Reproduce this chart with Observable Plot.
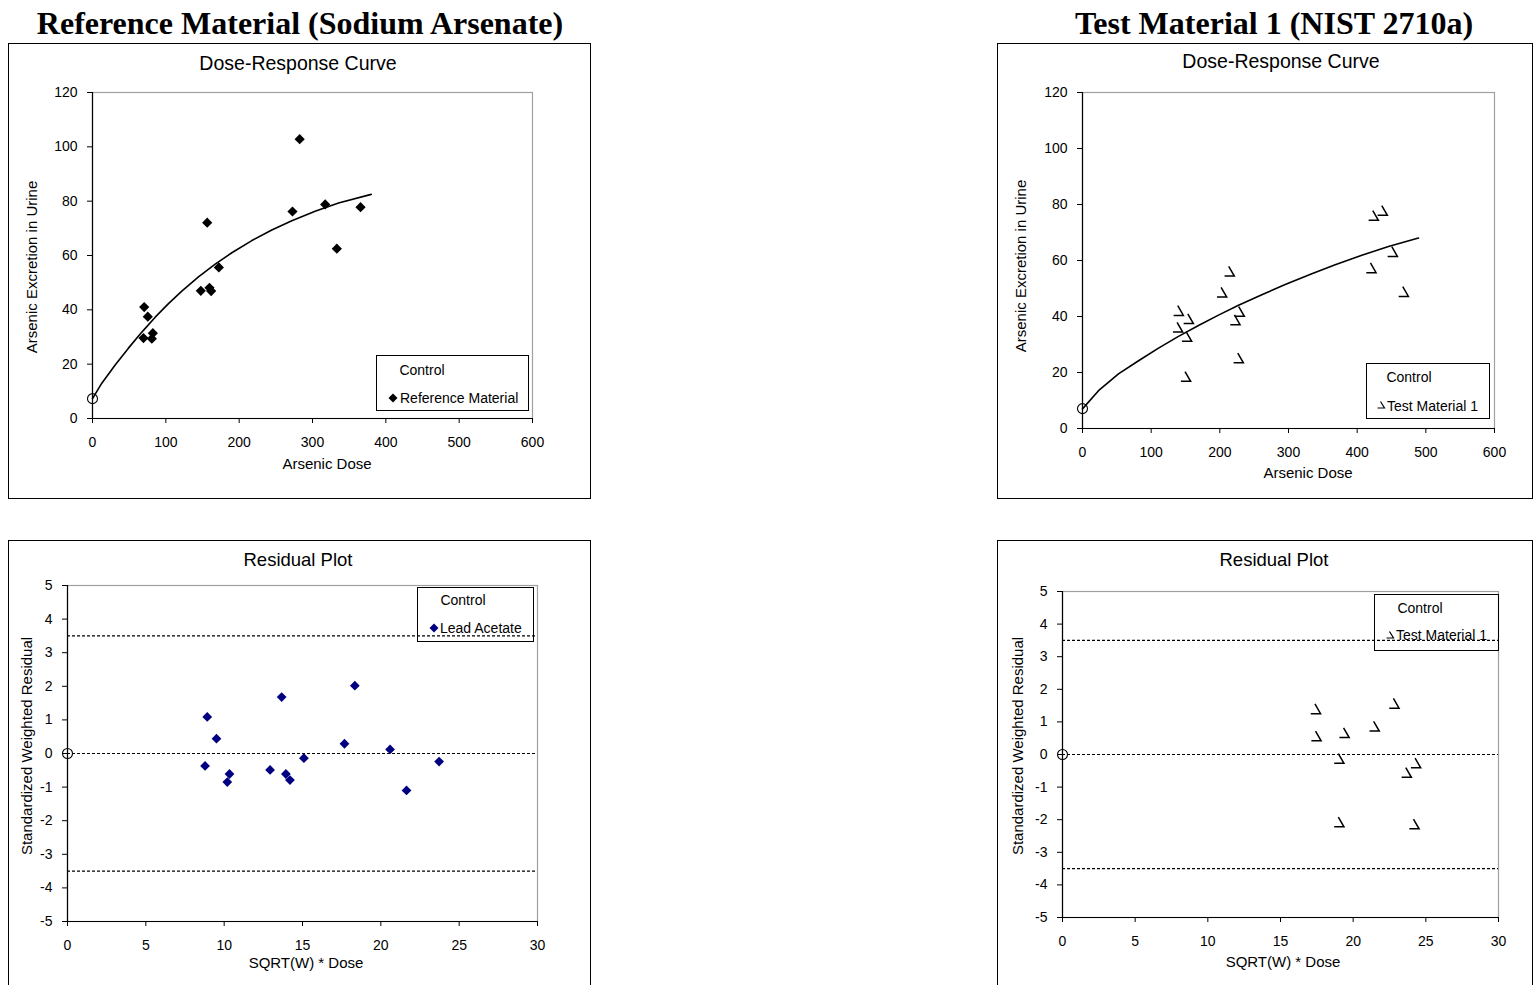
<!DOCTYPE html>
<html>
<head>
<meta charset="utf-8">
<script src="https://cdn.jsdelivr.net/npm/d3@7"></script>
<script src="https://cdn.jsdelivr.net/npm/@observablehq/plot@0.6"></script>
<style>
  html, body { margin: 0; padding: 0; background: #fff; }
  body { width: 1533px; height: 985px; overflow: hidden; position: relative;
         font-family: "Liberation Sans", Arial, sans-serif; color: #000; }
  .frame { position: absolute; border: 1px solid #000; box-sizing: border-box; }
  .frame > svg { position: absolute; left: 0; top: 0; }
  .t { position: absolute; white-space: nowrap; line-height: 1; }
  .legend { position: absolute; border: 1px solid #000; box-sizing: border-box; background: transparent; }
</style>
</head>
<body>
<script>
// ---- Reference material (sodium arsenate): arsenic dose vs. arsenic excretion in urine
const refDose      = [70.5, 75.4, 69.5, 82.3, 80.9, 147.7, 159.5, 161.8, 156.4, 172.3, 272.7, 282.5, 317.3, 333.2, 365.5];
const refExcretion = [41.0, 37.5, 29.6, 31.4, 29.4, 47.0, 48.1, 46.9, 72.1, 55.6, 76.2, 102.8, 78.8, 62.5, 77.8];
// fitted dose-response curve for the reference material
const refFitDose      = [0, 12.7, 30.9, 49, 67.3, 85.5, 103.6, 121.8, 144.5, 167.3, 190, 217.3, 244.5, 271.8, 303.6, 335.5, 380];
const refFitExcretion = [7.3, 13.0, 19.7, 25.9, 31.8, 37.3, 42.3, 46.9, 52.1, 56.8, 61.0, 65.5, 69.4, 72.8, 76.3, 79.3, 82.5];
const refControl = {dose: 0, excretion: 7.3};

// ---- Test material 1 (NIST 2710a)
const tm1Dose      = [139.8, 154.4, 138.8, 151.9, 150.4, 202.9, 214.0, 228.6, 222.3, 227.2, 423.8, 436.9, 420.4, 451.5, 467.5];
const tm1Excretion = [42.1, 39.2, 36.2, 32.9, 18.6, 48.7, 56.2, 41.8, 38.8, 25.2, 76.1, 77.9, 57.4, 63.2, 48.9];
const tm1FitDose      = [0, 23.3, 52.4, 81.6, 110.7, 139.8, 168.9, 198, 227.2, 261.2, 295.2, 334, 368, 406.8, 445.6, 489.3];
const tm1FitExcretion = [7.0, 13.5, 19.5, 24.2, 28.7, 32.9, 36.8, 40.5, 44.0, 47.8, 51.4, 55.3, 58.5, 61.9, 65.0, 68.0];
const tm1Control = {dose: 0, excretion: 7.1};

// ---- Standardized weighted residuals vs. SQRT(W) * Dose
const refResidX = [8.78, 8.92, 9.51, 10.2, 10.34, 12.93, 13.67, 13.94, 14.2, 15.09, 17.68, 18.34, 20.59, 21.64, 23.72];
const refResidY = [-0.37, 1.09, 0.44, -0.85, -0.61, -0.49, 1.68, -0.61, -0.79, -0.14, 0.29, 2.02, 0.12, -1.10, -0.24];
const tm1ResidX = [17.42, 17.46, 19.39, 19.03, 21.46, 22.82, 23.67, 24.31, 19.03, 24.2];
const tm1ResidY = [1.40, 0.57, 0.67, -0.12, 0.87, 1.57, -0.55, -0.26, -2.07, -2.13];
const residControl = {x: 0, y: 0};
const residLimits = [3.5, 0, -3.5];

// ---- tick values
const doseTicks = [0, 100, 200, 300, 400, 500, 600];
const excretionTicks = [0, 20, 40, 60, 80, 100, 120];
const residXTicks = [0, 5, 10, 15, 20, 25, 30];
const residYTicks = [-5, -4, -3, -2, -1, 0, 1, 2, 3, 4, 5];

// ---- build row tables for the marks
const zip = (xs, ys, kx, ky) => xs.map((v, i) => ({[kx]: v, [ky]: ys[i]}));
const refPoints = zip(refDose, refExcretion, "dose", "excretion");
const refFit = zip(refFitDose, refFitExcretion, "dose", "excretion");
const tm1Points = zip(tm1Dose, tm1Excretion, "dose", "excretion");
const tm1Fit = zip(tm1FitDose, tm1FitExcretion, "dose", "excretion");
const refResid = zip(refResidX, refResidY, "x", "y");
const tm1Resid = zip(tm1ResidX, tm1ResidY, "x", "y");

// open triangle marker (two strokes, left side left open)
const openTriangle = {
  draw(context, size) {
    const h = Math.sqrt(size) * 0.55;
    context.moveTo(-0.15 * h, -h);
    context.lineTo(h, h);
    context.lineTo(-h, h);
  }
};

const FONT = '"Liberation Sans", Arial, sans-serif';
const SERIF = '"Liberation Serif", "Times New Roman", serif';
const NAVY = "#000080";

function text(str, x, y, {size = 14, rotate = 0, anchor = "middle", weight = "normal", family = FONT} = {}) {
  const d = document.createElement("div");
  d.className = "t";
  d.textContent = str;
  d.style.left = x + "px";
  d.style.top = y + "px";
  d.style.fontSize = size + "px";
  d.style.fontWeight = weight;
  d.style.fontFamily = family;
  const tx = anchor === "middle" ? "-50%" : anchor === "start" ? "0%" : "-100%";
  d.style.transform = `translate(${tx},-50%)` + (rotate ? ` rotate(${rotate}deg)` : "");
  document.body.appendChild(d);
  return d;
}

function box(cls, left, top, width, height) {
  const d = document.createElement("div");
  d.className = cls;
  Object.assign(d.style, {left: left + "px", top: top + "px", width: width + "px", height: height + "px"});
  document.body.appendChild(d);
  return d;
}

// small legend swatch
function marker(kind, x, y, color = "#000") {
  const ns = "http://www.w3.org/2000/svg";
  const s = document.createElementNS(ns, "svg");
  s.setAttribute("width", 12); s.setAttribute("height", 12);
  Object.assign(s.style, {position: "absolute", left: (x - 6) + "px", top: (y - 6) + "px", overflow: "visible"});
  const p = document.createElementNS(ns, "path");
  if (kind === "diamond") {
    p.setAttribute("d", "M6,1.5 L10.5,6 L6,10.5 L1.5,6 Z");
    p.setAttribute("fill", color);
  } else {
    p.setAttribute("d", "M5.5,2.5 L9.5,9 L2.5,9");
    p.setAttribute("fill", "none");
    p.setAttribute("stroke", color);
    p.setAttribute("stroke-width", 1.2);
  }
  s.appendChild(p);
  document.body.appendChild(s);
}

function panel({left, top, width, height, margin, x, y, marks, control}) {
  const frame = box("frame", left, top, width, height);
  const chart = Plot.plot({
    width: width - 2,
    height: height - 2,
    marginLeft: margin[0], marginRight: margin[1], marginTop: margin[2], marginBottom: margin[3],
    x: {domain: x.domain, inset: 0, nice: false},
    y: {domain: y.domain, inset: 0, nice: false},
    style: {background: "transparent", fontFamily: FONT, fontSize: "14px", color: "#000", overflow: "visible"},
    marks: [
      Plot.frame({stroke: "#a0a0a0", strokeWidth: 1.2}),
      ...marks,
      Plot.ruleX([x.domain[0]], {stroke: "#000", strokeWidth: 1.2}),
      Plot.ruleY([y.domain[0]], {stroke: "#000", strokeWidth: 1.2}),
      Plot.axisX({ticks: x.ticks, tickSize: 5, tickPadding: 14, label: null, tickFormat: d => String(d), stroke: "#000"}),
      Plot.axisY({ticks: y.ticks, tickSize: 5, tickPadding: 10, label: null, tickFormat: d => String(d), stroke: "#000"}),
      // control point: open circle drawn above the axis lines
      Plot.dot([control], {x: control.xKey, y: control.yKey, r: 5, fill: "none", stroke: "#000", strokeWidth: 1.1})
    ]
  });
  frame.appendChild(chart);
}

// ---- page titles
text("Reference Material (Sodium Arsenate)", 300, 23, {size: 32, weight: "bold", family: SERIF});
text("Test Material 1 (NIST 2710a)", 1274, 23, {size: 32, weight: "bold", family: SERIF});

// ---- top-left: dose-response, reference material
panel({
  left: 8, top: 43, width: 583, height: 456,
  margin: [83, 58, 48, 80],
  x: {domain: [0, 600], ticks: doseTicks},
  y: {domain: [0, 120], ticks: excretionTicks},
  marks: [
    Plot.line(refFit, {x: "dose", y: "excretion", stroke: "#000", strokeWidth: 1.6}),
    Plot.dot(refPoints, {x: "dose", y: "excretion", symbol: "diamond2", r: 4.6, fill: "#000", stroke: "none"}),
  ],
  control: {...refControl, xKey: "dose", yKey: "excretion"},
});

// ---- top-right: dose-response, test material 1
panel({
  left: 997, top: 43, width: 536, height: 456,
  margin: [84, 38, 48, 70],
  x: {domain: [0, 600], ticks: doseTicks},
  y: {domain: [0, 120], ticks: excretionTicks},
  marks: [
    Plot.line(tm1Fit, {x: "dose", y: "excretion", stroke: "#000", strokeWidth: 1.6}),
    Plot.dot(tm1Points, {x: "dose", y: "excretion", symbol: openTriangle, r: 5, fill: "none", stroke: "#000", strokeWidth: 1.5}),
  ],
  control: {...tm1Control, xKey: "dose", yKey: "excretion"},
});

// ---- bottom-left: residuals, reference material
panel({
  left: 8, top: 540, width: 583, height: 460,
  margin: [58, 53, 44, 78],
  x: {domain: [0, 30], ticks: residXTicks},
  y: {domain: [-5, 5], ticks: residYTicks},
  marks: [
    Plot.ruleY(residLimits, {stroke: "#000", strokeWidth: 1.1, strokeDasharray: "3,2"}),
    Plot.dot(refResid, {x: "x", y: "y", symbol: "diamond2", r: 4.4, fill: NAVY, stroke: "none"}),
  ],
  control: {...residControl, xKey: "x", yKey: "y"},
});

// ---- bottom-right: residuals, test material 1
panel({
  left: 997, top: 540, width: 536, height: 460,
  margin: [64, 34, 50, 82],
  x: {domain: [0, 30], ticks: residXTicks},
  y: {domain: [-5, 5], ticks: residYTicks},
  marks: [
    Plot.ruleY(residLimits, {stroke: "#000", strokeWidth: 1.1, strokeDasharray: "3,2"}),
    Plot.dot(tm1Resid, {x: "x", y: "y", symbol: openTriangle, r: 5, fill: "none", stroke: "#000", strokeWidth: 1.5}),
  ],
  control: {...residControl, xKey: "x", yKey: "y"},
});

// ---- chart titles and axis titles
text("Dose-Response Curve", 298, 64, {size: 19.5});
text("Dose-Response Curve", 1281, 62, {size: 19.5});
text("Residual Plot", 298, 560, {size: 18.5});
text("Residual Plot", 1274, 560, {size: 18.5});

text("Arsenic Dose", 327, 463, {size: 15});
text("Arsenic Dose", 1308, 472, {size: 15});
text("SQRT(W) * Dose", 306, 962, {size: 15});
text("SQRT(W) * Dose", 1283, 961, {size: 15});

text("Arsenic Excretion in Urine", 31, 267, {size: 15, rotate: -90});
text("Arsenic Excretion in Urine", 1020, 266, {size: 15, rotate: -90});
text("Standardized Weighted Residual", 26, 746, {size: 15, rotate: -90});
text("Standardized Weighted Residual", 1017, 746, {size: 15, rotate: -90});

// ---- legends
box("legend", 376, 355, 153, 56);
text("Control", 422, 370, {size: 14});
marker("diamond", 393, 397.5);
text("Reference Material", 400, 397.5, {size: 14, anchor: "start"});

box("legend", 1366, 363, 124, 56);
text("Control", 1409, 377, {size: 14});
marker("triangle", 1381, 405);
text("Test Material 1", 1387, 405.5, {size: 14, anchor: "start"});

box("legend", 417, 587, 117, 55);
text("Control", 463, 600, {size: 14});
marker("diamond", 434, 628, NAVY);
text("Lead Acetate", 440, 628, {size: 14, anchor: "start"});

box("legend", 1374, 594, 125, 57);
text("Control", 1420, 608, {size: 14});
marker("triangle", 1390, 635);
text("Test Material 1", 1396, 635, {size: 14, anchor: "start"});
</script>
</body>
</html>
